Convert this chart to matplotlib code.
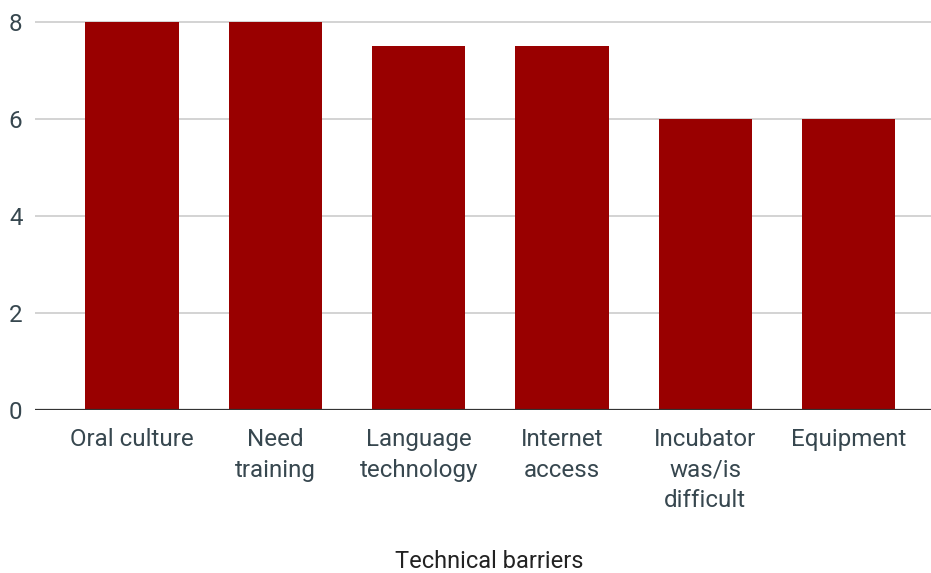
import matplotlib.pyplot as plt

plt.rcParams['font.family'] = ['Roboto', 'DejaVu Sans']

# barreiras técnicas e contagens
categories = ['Oral culture', 'Need\ntraining', 'Language\ntechnology',
              'Internet\naccess', 'Incubator\nwas/is\ndifficult', 'Equipment']
counts = [8, 8, 7.5, 7.5, 6, 6]
y_ticks = [0, 2, 4, 6, 8]

bar_color = '#990000'
label_color = '#37474f'

fig = plt.figure(figsize=(9.31, 5.73), dpi=100)
ax = fig.add_axes([35 / 931, 163 / 573, 896 / 931, 410 / 573])

x = range(len(categories))
ax.bar(x, counts, width=0.65, color=bar_color, zorder=3)

ax.set_xlim(-0.677, 5.575)
ax.set_ylim(0, 8.45)
ax.set_yticks(y_ticks)
ax.set_xticks(list(x))
ax.set_xticklabels(categories, linespacing=1.42)

ax.grid(axis='y', color='#cccccc', linewidth=1.2, zorder=0)
ax.axhline(0, color='#333333', linewidth=1.6, zorder=4)
for s in ax.spines.values():
    s.set_visible(False)

ax.tick_params(axis='both', length=0, labelsize=17.4, labelcolor=label_color)
ax.tick_params(axis='x', pad=13)
ax.tick_params(axis='y', pad=9)

# título do eixo x, fixo na parte de baixo da figura
fig.text(489 / 931, 1 - 562 / 573, 'Technical barriers', fontsize=17,
         color='#222222', ha='center', va='center')

plt.savefig('out.png', dpi=100)
